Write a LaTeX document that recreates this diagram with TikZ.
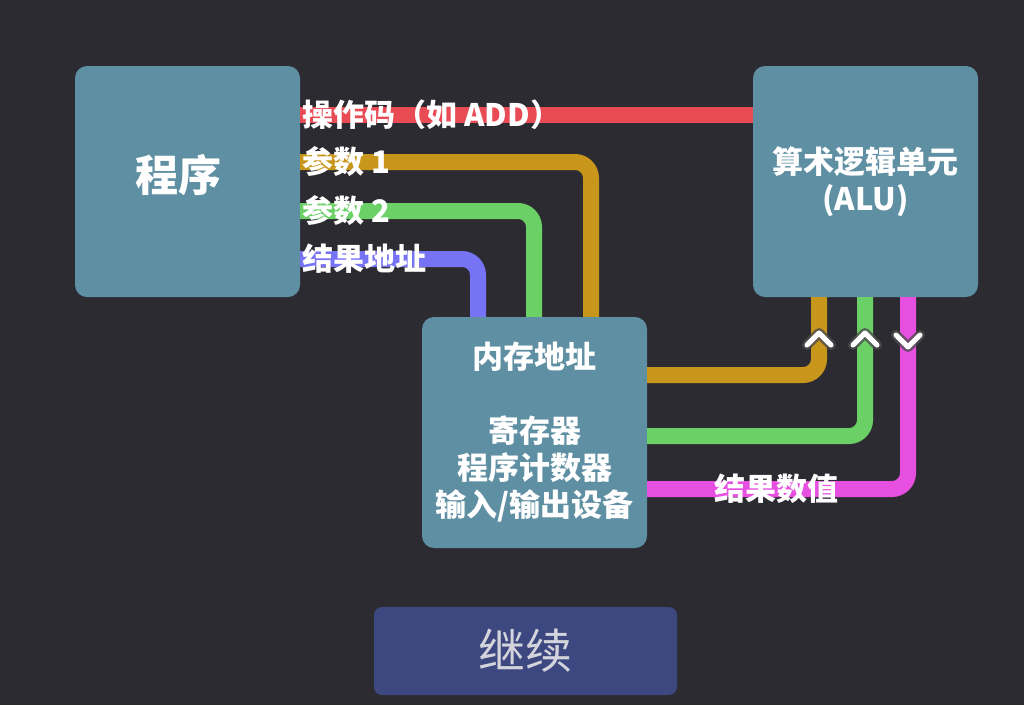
\documentclass[tikz,border=0pt]{standalone}
\usepackage{fontspec}
\newfontfamily\cjk{Noto Sans CJK SC}
\definecolor{bg}{HTML}{2C2B31}
\definecolor{boxc}{HTML}{5F8FA2}
\definecolor{btnc}{HTML}{3D4780}
\definecolor{wred}{HTML}{E94B54}
\definecolor{wgold}{HTML}{C9961C}
\definecolor{wgreen}{HTML}{6BD066}
\definecolor{wblue}{HTML}{7673F4}
\definecolor{wpink}{HTML}{E64FE0}
\definecolor{btntext}{HTML}{D4D4DC}
\tikzset{
  unit/.style={fill=boxc, rounded corners=12pt, minimum width=225pt,
    minimum height=231pt, inner sep=0pt, text=white, align=center,
    font=\cjk\bfseries\fontsize{31}{37}\selectfont},
  wire/.style={line width=16pt, rounded corners=16pt},
  lbl/.style={text=white, inner sep=1pt, font=\cjk\bfseries\fontsize{31}{36}\selectfont},
  chevhalo/.style={line width=10pt, black!70, line cap=round, line join=round, opacity=0.8},
  chevcore/.style={line width=5pt, white, line cap=round, line join=round},
}
\begin{document}
\begin{tikzpicture}[x=1pt,y=-1pt]
\fill[bg] (0,0) rectangle (1024,705);
\useasboundingbox (0,0) rectangle (1024,705);

% units
\node[unit] (prog) at (187.5,181.5) {};
\node[unit] (alu) at (865.5,181.5) {算术逻辑单元\\(ALU)};
\node[unit] (mem) at (534.5,432.5) {内存地址\\[37pt]寄存器\\程序计数器\\输入/输出设备};
\node[fill=btnc, rounded corners=8pt, minimum width=303pt, minimum height=88pt,
  inner sep=0pt, text=btntext, font=\cjk\fontsize{47}{50}\selectfont] (cont) at (525.5,651) {继续};
\node[text=white, font=\cjk\bfseries\fontsize{43}{50}\selectfont] (progtitle)
  at ([xshift=-9pt,yshift=6pt]prog.center) {程序};

% wires from the program to the ALU and memory
\draw[wire, wred] (prog.east |- 0,115) -- (alu.west |- 0,115);
\draw[wire, wgold] (prog.east |- 0,162) -| (591,0 |- mem.north);
\draw[wire, wgreen] (prog.east |- 0,211) -| (534,0 |- mem.north);
\draw[wire, wblue] (prog.east |- 0,259) -| (478,0 |- mem.north);

% wires between memory and the ALU
\draw[wire, wgold] (mem.east |- 0,375) -| (819,0 |- alu.south);
\draw[wire, wgreen] (mem.east |- 0,436) -| (865,0 |- alu.south);
\draw[wire, wpink] (mem.east |- 0,489) -| (908,0 |- alu.south);

% direction marks
\foreach \x in {819,865} {
  \draw[chevhalo] (\x-12,345) -- (\x,333) -- (\x+12,345);
  \draw[chevcore] (\x-12,345) -- (\x,333) -- (\x+12,345);
}
\draw[chevhalo] (896,335) -- (908,347) -- (920,335);
\draw[chevcore] (896,335) -- (908,347) -- (920,335);

% wire labels
\node[lbl, anchor=west] (opl) at ([xshift=1pt]prog.east |- 0,115) {操作码（如 ADD）};
\node[lbl, anchor=west] (a1l) at ([xshift=1pt]prog.east |- 0,162) {参数 1};
\node[lbl, anchor=west] (a2l) at ([xshift=1pt]prog.east |- 0,211) {参数 2};
\node[lbl, anchor=west] (ral) at ([xshift=1pt]prog.east |- 0,259) {结果地址};
\node[lbl] (rvl) at (776,489) {结果数值};
\end{tikzpicture}
\end{document}
